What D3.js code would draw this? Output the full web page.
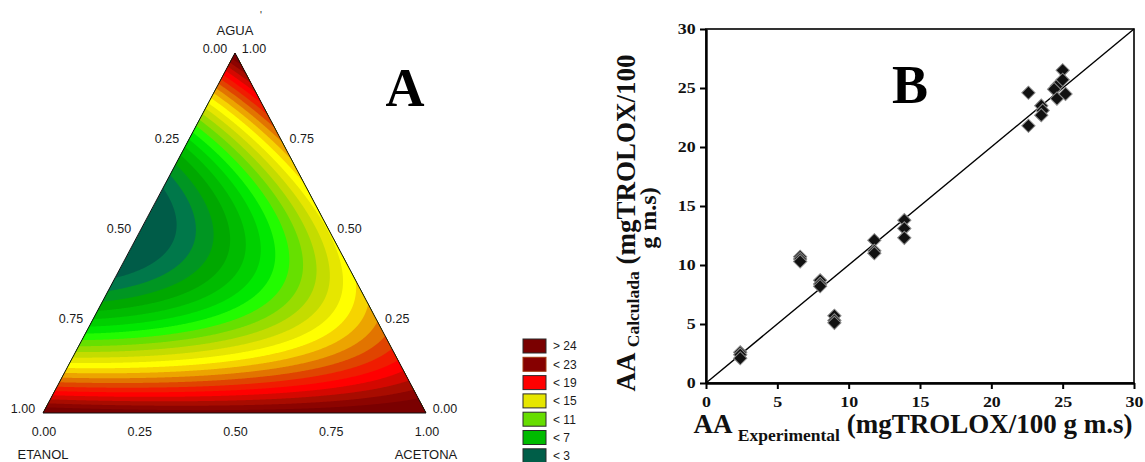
<!DOCTYPE html>
<html><head><meta charset="utf-8">
<script src="https://cdn.jsdelivr.net/npm/d3@7"></script>
<style>body{margin:0;background:#fff}svg{display:block}</style>
</head><body>
<svg id="chart" width="1145" height="462"></svg>
<script>
// ---------- Panel A: fitted mixture model (Scheffé special cubic) ----------
const mixtureTerms = ["Agua", "Etanol", "Acetona", "Agua·Etanol", "Agua·Acetona", "Etanol·Acetona", "Agua·Etanol·Acetona"];
const mixtureCoefs = [25.5, 25.5, 25.8, -96, -46, -4, -40];
const contourLevels = [3, 4, 5, 6, 7, 8, 9, 10, 11, 12, 13, 14, 15, 16, 17, 18, 19, 20, 21, 22, 23, 24];
const bandColors = ["#005c48", "#00784a", "#009622", "#00a800", "#00bb00", "#00d000", "#00e800", "#22fc00",
  "#66e000", "#98dc00", "#c4dc00", "#e6e600", "#ffff00", "#f6d400", "#eca400", "#e27400", "#e04400",
  "#f01c00", "#ff0000", "#d40800", "#a80c00", "#8c0400", "#7a0000"];
const ternaryTicks = [0, 0.25, 0.5, 0.75, 1];
const ternaryTickLabels = ["0.00", "0.25", "0.50", "0.75", "1.00"];
const vertexNames = ["AGUA", "ETANOL", "ACETONA"];
const legendLabels = ["> 24", "< 23", "< 19", "< 15", "< 11", "< 7", "< 3"];
const legendColors = ["#7a0000", "#860000", "#ff0000", "#e6e600", "#66dd00", "#00bb00", "#005e48"];

// ---------- Panel B: experimental vs calculated antioxidant activity ----------
const aaExperimental = [2.4, 2.4, 2.4, 6.6, 6.6, 6.6, 8.0, 8.0, 8.0, 9.0, 9.0, 9.0, 11.8, 11.8, 11.8,
  13.9, 13.9, 13.9, 22.6, 22.6, 23.5, 23.6, 23.5, 24.6, 24.4, 24.6, 25.0, 25.0, 25.2];
const aaCalculada = [2.6, 2.4, 2.1, 10.7, 10.5, 10.3, 8.7, 8.4, 8.2, 5.7, 5.3, 5.1, 12.1, 11.2, 11.0,
  13.8, 13.1, 12.3, 24.6, 21.8, 23.5, 23.1, 22.7, 25.2, 24.9, 24.1, 26.5, 25.7, 24.5];
const axisTicksB = [0, 5, 10, 15, 20, 25, 30];
const identityLine = [0, 30];

const svg = d3.select("#chart");

// ================= Panel A =================
const predict = (w, e, a) => {
  const t = [w, e, a, w * e, w * a, e * a, w * e * a];
  return d3.sum(t, (v, i) => v * mixtureCoefs[i]);
};
const V = { w: [235, 53], e: [43, 413], a: [426, 413] };
const yW = d3.scaleLinear().domain([0, 1]).range([V.e[1], V.w[1]]);
const xA = d3.scaleLinear().domain([0, 1]).range([0, V.a[0] - V.e[0]]);
const xWs = d3.scaleLinear().domain([0, 1]).range([0, V.w[0] - V.e[0]]);
const tern = (w, e, a) => [V.e[0] + xA(a) + xWs(w), yW(w)];

const gx0 = 38, gy0 = 48, nx = 396, ny = 372;
const grid = new Float64Array(nx * ny);
for (let j = 0; j < ny; j++) {
  const py = gy0 + j + 0.5;
  const w = yW.invert(py);
  for (let i = 0; i < nx; i++) {
    const px = gx0 + i + 0.5;
    const a = xA.invert(px - V.e[0] - xWs(w));
    const e = 1 - w - a;
    grid[j * nx + i] = predict(w, e, a);
  }
}
const contours = d3.contours().size([nx, ny]).thresholds(contourLevels)(grid);
const gpath = d3.geoPath(d3.geoIdentity().translate([gx0, gy0]));

const triPts = [V.w, V.e, V.a];
svg.append("clipPath").attr("id", "tri").append("polygon").attr("points", triPts.map(p => p.join(",")).join(" "));
const gA = svg.append("g");
const gC = gA.append("g").attr("clip-path", "url(#tri)");
gC.append("polygon").attr("points", triPts.map(p => p.join(",")).join(" ")).attr("fill", bandColors[0]);
gC.selectAll("path.band").data(contours).join("path").attr("class", "band")
  .attr("d", gpath).attr("fill", (d, i) => bandColors[i + 1]);
gA.append("polygon").attr("points", triPts.map(p => p.join(",")).join(" "))
  .attr("fill", "none").attr("stroke", "#111").attr("stroke-width", 1);

const fontA = "'Liberation Sans', Arial, sans-serif";
const labelA = (x, y, txt, size) => gA.append("text").attr("x", x).attr("y", y).attr("dy", "0.36em")
  .attr("text-anchor", "middle").attr("font-family", fontA).attr("font-size", size).attr("fill", "#1a1a1a").text(txt);

// left edge: Etanol fraction (0 at top, 1 at bottom-left)
ternaryTicks.forEach((t, i) => { const p = tern(1 - t, t, 0); labelA(p[0] - 20, p[1] - 5, ternaryTickLabels[i], 12.5); });
// right edge: Agua fraction
ternaryTicks.forEach((t, i) => { const p = tern(t, 0, 1 - t); labelA(p[0] + 19, p[1] - 5, ternaryTickLabels[i], 12.5); });
// bottom edge: Acetona fraction
ternaryTicks.forEach((t, i) => { const p = tern(0, 1 - t, t); labelA(p[0] + 1, 431, ternaryTickLabels[i], 12.5); });
labelA(V.w[0], 30, vertexNames[0], 13);
labelA(V.e[0], 454, vertexNames[1], 13);
labelA(V.a[0], 454, vertexNames[2], 13);
labelA(261, 15, "'", 10);
gA.append("text").attr("x", 405).attr("y", 106).attr("text-anchor", "middle")
  .attr("font-family", "'Liberation Serif', 'Times New Roman', serif").attr("font-weight", "bold")
  .attr("font-size", 54).text("A");

// legend
const lg = svg.append("g").attr("transform", "translate(523,339)");
const li = lg.selectAll("g").data(legendLabels).join("g").attr("transform", (d, i) => `translate(0,${i * 18.3})`);
li.append("rect").attr("width", 23).attr("height", 14).attr("fill", (d, i) => legendColors[i])
  .attr("stroke", (d, i) => i === 1 ? "#a03a10" : "#2a2a2a").attr("stroke-width", 1);
li.append("text").attr("x", 30).attr("y", 7).attr("dy", "0.36em").attr("font-family", fontA)
  .attr("font-size", 12).attr("fill", "#1a1a1a").text(d => d);

// ================= Panel B =================
const x = d3.scaleLinear().domain([0, 30]).range([706, 1134]);
const y = d3.scaleLinear().domain([0, 30]).range([383, 29]);
const gB = svg.append("g");
const serif = "'Liberation Serif', 'Times New Roman', serif";

gB.append("rect").attr("x", x(0)).attr("y", y(30)).attr("width", x(30) - x(0)).attr("height", y(0) - y(30))
  .attr("fill", "none").attr("stroke", "#000").attr("stroke-width", 1.6);

const yAxis = gB.append("g").attr("transform", `translate(${x(0)},0)`)
  .call(d3.axisLeft(y).tickValues(axisTicksB).tickSize(6).tickSizeOuter(0).tickPadding(4));
const xAxis = gB.append("g").attr("transform", `translate(0,${y(0)})`)
  .call(d3.axisBottom(x).tickValues(axisTicksB).tickSize(6).tickSizeOuter(0).tickPadding(8));
[yAxis, xAxis].forEach(ax => {
  ax.select(".domain").attr("stroke", "#000").attr("stroke-width", 2.4);
  ax.selectAll(".tick line").attr("stroke", "#000").attr("stroke-width", 2);
  ax.selectAll(".tick text").attr("font-family", serif).attr("font-weight", "bold")
    .attr("font-size", 14).attr("fill", "#111");
});
yAxis.selectAll(".tick text").attr("transform", "scale(1.28,1)").attr("x", -8);
xAxis.selectAll(".tick text").attr("transform", "scale(1.28,1)");

gB.append("path").datum(identityLine)
  .attr("d", d3.line().x(d => x(d)).y(d => y(d)))
  .attr("stroke", "#000").attr("stroke-width", 1.4).attr("fill", "none");

const diamond = d3.symbol().type(d3.symbolSquare).size(88);
gB.selectAll("path.pt").data(aaExperimental).join("path").attr("class", "pt")
  .attr("d", diamond)
  .attr("transform", (d, i) => `translate(${x(d)},${y(aaCalculada[i])}) rotate(45)`)
  .attr("fill", "#111").attr("stroke", "#8a8a8a").attr("stroke-width", 1);

gB.append("text").attr("x", 910).attr("y", 103).attr("text-anchor", "middle")
  .attr("font-family", serif).attr("font-weight", "bold").attr("font-size", 54).text("B");

// x title
const xt = gB.append("text").attr("x", 913).attr("y", 433).attr("text-anchor", "middle")
  .attr("font-family", serif).attr("font-weight", "bold").attr("font-size", 27).attr("fill", "#111");
xt.append("tspan").text("AA ");
xt.append("tspan").attr("font-size", 17.5).attr("dy", 8).text("Experimental");
xt.append("tspan").attr("dy", -8).text(" (mgTROLOX/100 g m.s)");

// y title (two lines)
const yt = gB.append("text").attr("transform", "translate(635,223) rotate(-90)").attr("text-anchor", "middle")
  .attr("font-family", serif).attr("font-weight", "bold").attr("font-size", 27).attr("fill", "#111");
yt.append("tspan").text("AA ");
yt.append("tspan").attr("font-size", 17.5).attr("dy", 4).text("Calculada");
yt.append("tspan").attr("dy", -4).text(" (mgTROLOX/100");
gB.append("text").attr("transform", "translate(656,218) rotate(-90)").attr("text-anchor", "middle")
  .attr("font-family", serif).attr("font-weight", "bold").attr("font-size", 24).attr("fill", "#111")
  .text("g m.s)");
</script>
</body></html>
